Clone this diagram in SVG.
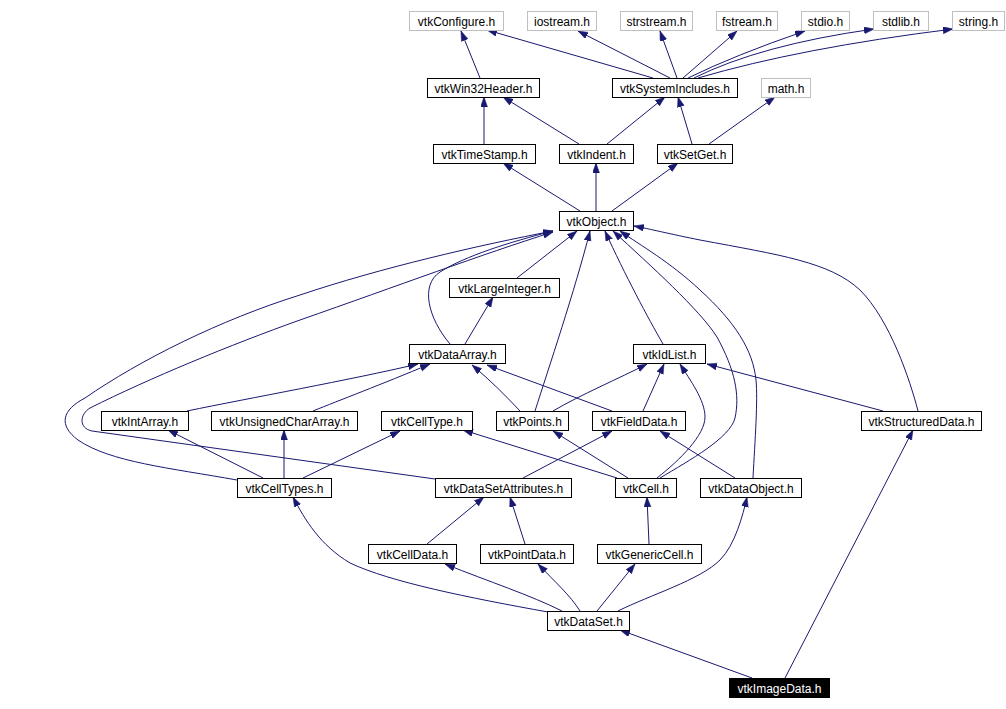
<svg xmlns="http://www.w3.org/2000/svg" width="1006" height="709" viewBox="0 0 1006 709">
<style>
.n rect{fill:#fff;stroke:#000;stroke-width:1}
.g rect{fill:#fff;stroke:#bfbfbf;stroke-width:1}
.cur rect{fill:#000;stroke:#000}
text{font-family:"Liberation Sans",Arial,sans-serif;font-size:12px;text-anchor:middle;fill:#000}
.cur text{fill:#fff}
#edges path{fill:none;stroke:#191970;stroke-width:1;marker-end:url(#ah)}
</style>
<defs>
<marker id="ah" markerUnits="userSpaceOnUse" markerWidth="11" markerHeight="8" refX="10" refY="3.5" orient="auto">
<path d="M0,0 L10,3.5 L0,7 z" fill="#191970" stroke="#191970" stroke-width="0.5"/>
</marker>
</defs>
<rect width="1006" height="709" fill="#fff"/>
<g id="edges">
<path d="M480,78 L461,31"/>
<path d="M653,78 L487,30"/>
<path d="M670,78 L578,31"/>
<path d="M677,78 L660,31"/>
<path d="M683,78 L737,31"/>
<path d="M688,78 Q 735,55 805,31"/>
<path d="M694,78 Q 760,45 874,29"/>
<path d="M698,78 Q 800,48 953,29"/>
<path d="M484,144 L484,97"/>
<path d="M579,144 L503,97"/>
<path d="M607,144 L665,97"/>
<path d="M692,144 L678,97"/>
<path d="M709,144 L775,97"/>
<path d="M580,211 L503,163"/>
<path d="M596,211 L596,163"/>
<path d="M612,211 L678,163"/>
<path d="M517,278 L577,231"/>
<path d="M450,344 C 428,318 420,285 440,272 C 465,256 510,242 553,231"/>
<path d="M465,344 L493,297"/>
<path d="M237,480 C 170,468 110,462 78,440 C 58,425 62,410 85,398 C 140,360 220,320 300,295 C 380,268 480,245 553,231"/>
<path d="M435,479 L92,431 C 78,428 80,414 90,408 C 150,378 230,345 300,320 C 400,285 480,255 553,232"/>
<path d="M535,411 C 548,370 575,290 590,231"/>
<path d="M663,344 C 648,318 625,275 605,231"/>
<path d="M660,478 C 690,460 730,438 735,418 C 740,395 735,370 717,337 C 700,310 650,265 613,231"/>
<path d="M753,478 C 755,440 758,400 756,380 C 753,350 735,322 700,290 C 670,262 640,245 620,231"/>
<path d="M918,411 C 910,380 890,320 860,290 C 830,262 780,255 700,240 C 670,234 650,229 634,226"/>
<path d="M657,478 C 680,460 705,435 705,417 C 705,400 690,380 680,364"/>
<path d="M643,411 L664,364"/>
<path d="M553,411 C 580,395 620,378 647,364"/>
<path d="M883,411 L707,364"/>
<path d="M612,411 L487,365"/>
<path d="M520,411 C 505,395 490,380 472,365"/>
<path d="M187,411 C 250,398 350,380 418,364"/>
<path d="M313,411 C 340,400 380,385 430,364"/>
<path d="M263,478 L168,430"/>
<path d="M284,478 L284,430"/>
<path d="M303,478 L400,431"/>
<path d="M617,478 L463,430"/>
<path d="M628,478 L553,431"/>
<path d="M523,478 L612,431"/>
<path d="M735,478 L660,431"/>
<path d="M427,544 L484,497"/>
<path d="M525,544 L510,497"/>
<path d="M649,544 L647,497"/>
<path d="M548,612 C 470,598 390,582 350,563 C 320,545 305,520 293,497"/>
<path d="M562,611 C 530,595 490,582 445,564"/>
<path d="M580,611 C 570,595 555,582 538,564"/>
<path d="M597,611 L635,564"/>
<path d="M618,611 C 650,595 700,580 720,560 C 735,545 743,515 747,497"/>
<path d="M752,678 L620,630"/>
<path d="M785,678 L913,430"/>
</g>
<g id="vtkConfigure" class="g"><rect x="409.5" y="11.5" width="94" height="19"/><text x="456.5" y="25.5">vtkConfigure.h</text></g>
<g id="iostream" class="g"><rect x="527.5" y="11.5" width="69" height="19"/><text x="562" y="25.5">iostream.h</text></g>
<g id="strstream" class="g"><rect x="620.5" y="11.5" width="72" height="19"/><text x="656.5" y="25.5">strstream.h</text></g>
<g id="fstream" class="g"><rect x="716.5" y="11.5" width="61" height="19"/><text x="747" y="25.5">fstream.h</text></g>
<g id="stdio" class="g"><rect x="801.5" y="11.5" width="48" height="19"/><text x="825.5" y="25.5">stdio.h</text></g>
<g id="stdlib" class="g"><rect x="873.5" y="11.5" width="55" height="19"/><text x="901" y="25.5">stdlib.h</text></g>
<g id="string" class="g"><rect x="952.5" y="11.5" width="52" height="19"/><text x="978.5" y="25.5">string.h</text></g>
<g id="vtkWin32Header" class="n"><rect x="427.5" y="78.5" width="112" height="19"/><text x="483.5" y="92.5">vtkWin32Header.h</text></g>
<g id="vtkSystemIncludes" class="n"><rect x="612.5" y="78.5" width="125" height="19"/><text x="675" y="92.5">vtkSystemIncludes.h</text></g>
<g id="math" class="g"><rect x="761.5" y="78.5" width="49" height="19"/><text x="786" y="92.5">math.h</text></g>
<g id="vtkTimeStamp" class="n"><rect x="433.5" y="144.5" width="102" height="19"/><text x="484.5" y="158.5">vtkTimeStamp.h</text></g>
<g id="vtkIndent" class="n"><rect x="559.5" y="144.5" width="74" height="19"/><text x="596.5" y="158.5">vtkIndent.h</text></g>
<g id="vtkSetGet" class="n"><rect x="657.5" y="144.5" width="75" height="19"/><text x="695" y="158.5">vtkSetGet.h</text></g>
<g id="vtkObject" class="n"><rect x="559.5" y="211.5" width="74" height="19"/><text x="596.5" y="225.5">vtkObject.h</text></g>
<g id="vtkLargeInteger" class="n"><rect x="449.5" y="278.5" width="110" height="19"/><text x="504.5" y="292.5">vtkLargeInteger.h</text></g>
<g id="vtkDataArray" class="n"><rect x="409.5" y="344.5" width="96" height="19"/><text x="457.5" y="358.5">vtkDataArray.h</text></g>
<g id="vtkIdList" class="n"><rect x="633.5" y="344.5" width="72" height="19"/><text x="669.5" y="358.5">vtkIdList.h</text></g>
<g id="vtkIntArray" class="n"><rect x="101.5" y="411.5" width="87" height="19"/><text x="145" y="425.5">vtkIntArray.h</text></g>
<g id="vtkUnsignedCharArray" class="n"><rect x="211.5" y="411.5" width="146" height="19"/><text x="284.5" y="425.5">vtkUnsignedCharArray.h</text></g>
<g id="vtkCellType" class="n"><rect x="381.5" y="411.5" width="91" height="19"/><text x="427" y="425.5">vtkCellType.h</text></g>
<g id="vtkPoints" class="n"><rect x="496.5" y="411.5" width="72" height="19"/><text x="532.5" y="425.5">vtkPoints.h</text></g>
<g id="vtkFieldData" class="n"><rect x="592.5" y="411.5" width="93" height="19"/><text x="639" y="425.5">vtkFieldData.h</text></g>
<g id="vtkStructuredData" class="n"><rect x="861.5" y="411.5" width="120" height="19"/><text x="921.5" y="425.5">vtkStructuredData.h</text></g>
<g id="vtkCellTypes" class="n"><rect x="237.5" y="478.5" width="94" height="19"/><text x="284.5" y="492.5">vtkCellTypes.h</text></g>
<g id="vtkDataSetAttributes" class="n"><rect x="435.5" y="478.5" width="136" height="19"/><text x="503.5" y="492.5">vtkDataSetAttributes.h</text></g>
<g id="vtkCell" class="n"><rect x="615.5" y="478.5" width="61" height="19"/><text x="646" y="492.5">vtkCell.h</text></g>
<g id="vtkDataObject" class="n"><rect x="700.5" y="478.5" width="101" height="19"/><text x="751" y="492.5">vtkDataObject.h</text></g>
<g id="vtkCellData" class="n"><rect x="368.5" y="544.5" width="88" height="19"/><text x="412.5" y="558.5">vtkCellData.h</text></g>
<g id="vtkPointData" class="n"><rect x="480.5" y="544.5" width="93" height="19"/><text x="527" y="558.5">vtkPointData.h</text></g>
<g id="vtkGenericCell" class="n"><rect x="597.5" y="544.5" width="104" height="19"/><text x="649.5" y="558.5">vtkGenericCell.h</text></g>
<g id="vtkDataSet" class="n"><rect x="547.5" y="611.5" width="82" height="19"/><text x="588.5" y="625.5">vtkDataSet.h</text></g>
<g id="vtkImageData" class="cur"><rect x="729.5" y="678.5" width="100" height="19"/><text x="779.5" y="692.5">vtkImageData.h</text></g>
</svg>
